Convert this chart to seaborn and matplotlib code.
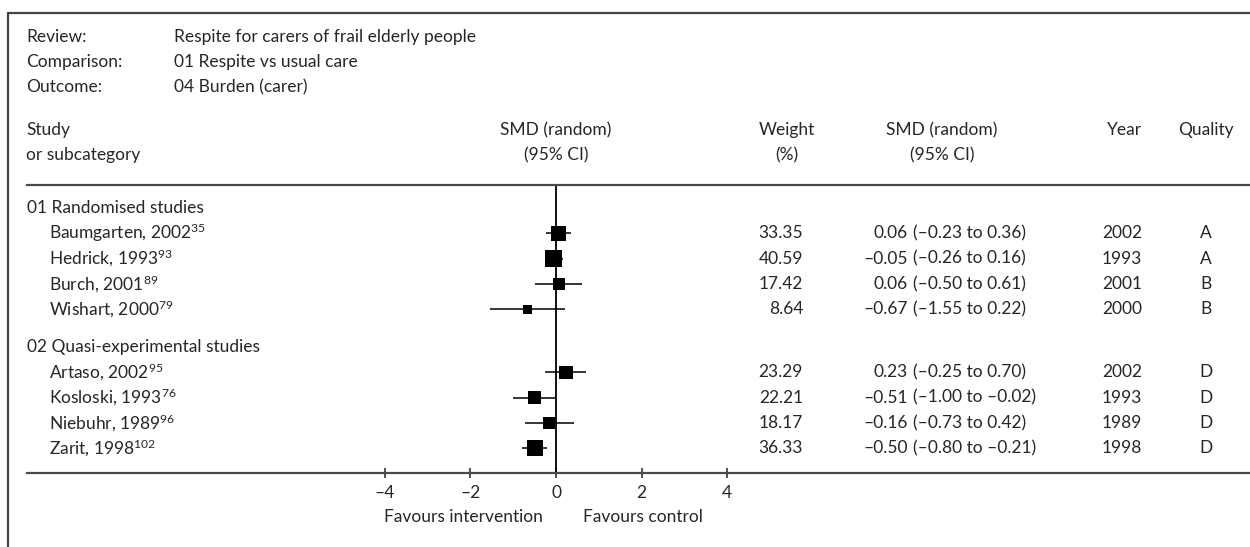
import numpy as np
import pandas as pd
import seaborn as sns
from matplotlib import pyplot as plt
from matplotlib import transforms
from matplotlib.lines import Line2D

# dados do forest plot
grupos = ["01 Randomised studies", "02 Quasi-experimental studies"]
estudos = ["Baumgarten, 2002", "Hedrick, 1993", "Burch, 2001", "Wishart, 2000",
           "Artaso, 2002", "Kosloski, 1993", "Niebuhr, 1989", "Zarit, 1998"]
refs = ["35", "93", "89", "79", "95", "76", "96", "102"]
grupo_idx = [0, 0, 0, 0, 1, 1, 1, 1]
smd = [0.06, -0.05, 0.06, -0.67, 0.23, -0.51, -0.16, -0.50]
lo = [-0.23, -0.26, -0.50, -1.55, -0.25, -1.00, -0.73, -0.80]
hi = [0.36, 0.16, 0.61, 0.22, 0.70, -0.02, 0.42, -0.21]
peso = [33.35, 40.59, 17.42, 8.64, 23.29, 22.21, 18.17, 36.33]
ano = [2002, 1993, 2001, 2000, 2002, 1993, 1989, 1998]
qualidade = ["A", "A", "B", "B", "D", "D", "D", "D"]
xticks = [-4, -2, 0, 2, 4]
xticklabels = ["\u20134", "\u20132", "0", "2", "4"]

header_info = [("Review:", "Respite for carers of frail elderly people"),
               ("Comparison:", "01 Respite vs usual care"),
               ("Outcome:", "04 Burden (carer)")]


def fmt(v):
    s = f"{abs(v):.2f}"
    return ("\u2013" + s) if v < 0 else s


sns.set_style("white")
plt.rcParams['font.family'] = ['Lato', 'DejaVu Sans']
plt.rcParams['mathtext.fontset'] = 'custom'
plt.rcParams['mathtext.rm'] = 'Lato'
plt.rcParams['mathtext.it'] = 'Lato'
FS = 12.5

# posicoes das linhas
ypos, gpos = [], []
y = 0.9
for g in range(len(grupos)):
    gpos.append(y)
    y += 1
    for i, gi in enumerate(grupo_idx):
        if gi == g:
            ypos.append(y)
            y += 1
    y += 0.47

df = pd.DataFrame({"estudo": estudos, "smd": smd, "lo": lo, "hi": hi,
                   "peso": peso, "y": ypos})

W, H = 1250, 547
fig = plt.figure(figsize=(W / 100, H / 100), dpi=100)
px = 42.8  # pixels por unidade SMD
x0 = 556
ax = fig.add_axes([27 / W, 74 / H, (1249 - 27) / W, (473 - 185) / H])
ax.set_xlim(-(x0 - 27) / px, (1249 - x0) / px)
ax.set_ylim((473 - 185) / 25.4, 0)

ax.hlines(df["y"], df["lo"], df["hi"], color="black", lw=1.1)
sns.scatterplot(data=df, x="smd", y="y", size="peso", sizes=(48, 145),
                marker="s", color="black", edgecolor="black", linewidth=0,
                legend=False, ax=ax)
ax.axvline(0, color="black", lw=1.3)

for s in ["left", "right"]:
    ax.spines[s].set_visible(False)
for s in ["top", "bottom"]:
    ax.spines[s].set_color("#4a4a4a")
    ax.spines[s].set_linewidth(1.6)
ax.set_yticks([])
ax.set_xticks(xticks)
ax.set_xticklabels(xticklabels, fontsize=FS)
ax.tick_params(axis="x", direction="inout", length=7, width=1.2,
               color="#333333", pad=5, bottom=True)
ax.set_xlabel("")
ax.set_ylabel("")

# textos das colunas
tr = transforms.blended_transform_factory(fig.transFigure, ax.transData)
for g, yg in zip(grupos, gpos):
    ax.text(27 / W, yg, g, transform=tr, va="center", ha="left", fontsize=FS)
for i, r in df.iterrows():
    yy = r["y"]
    ax.text(49 / W, yy, f"{estudos[i]}$^{{{refs[i]}}}$", transform=tr,
            va="center", ha="left", fontsize=FS)
    ax.text(803 / W, yy, f"{peso[i]:.2f}", transform=tr, va="center",
            ha="right", fontsize=FS)
    ax.text(908 / W, yy, fmt(smd[i]), transform=tr, va="center",
            ha="right", fontsize=FS)
    ax.text(913 / W, yy, f"({fmt(lo[i])} to {fmt(hi[i])})", transform=tr,
            va="center", ha="left", fontsize=FS)
    ax.text(1142 / W, yy, str(ano[i]), transform=tr, va="center",
            ha="right", fontsize=FS)
    ax.text(1206 / W, yy, qualidade[i], transform=tr, va="center",
            ha="center", fontsize=FS)


def ftxt(x, y, s, ha="left"):
    fig.text(x / W, 1 - y / H, s, ha=ha, va="center", fontsize=FS)


for k, (a, b) in enumerate(header_info):
    ftxt(26, 37 + 25 * k, a)
    ftxt(174, 37 + 25 * k, b)

ftxt(26, 130, "Study")
ftxt(26, 155, "or subcategory")
ftxt(x0, 130, "SMD (random)", "center")
ftxt(x0, 155, "(95% CI)", "center")
ftxt(787, 130, "Weight", "center")
ftxt(787, 155, "(%)", "center")
ftxt(942, 130, "SMD (random)", "center")
ftxt(942, 155, "(95% CI)", "center")
ftxt(1142, 130, "Year", "right")
ftxt(1206, 130, "Quality", "center")
ftxt(543, 517, "Favours intervention", "right")
ftxt(583, 517, "Favours control", "left")

# moldura
fig.add_artist(Line2D([8 / W, 1], [1 - 13 / H, 1 - 13 / H],
                      transform=fig.transFigure, color="#444444", lw=1.6))
fig.add_artist(Line2D([8 / W, 8 / W], [0, 1 - 13 / H],
                      transform=fig.transFigure, color="#444444", lw=1.6))

fig.savefig("out.png", dpi=100)
